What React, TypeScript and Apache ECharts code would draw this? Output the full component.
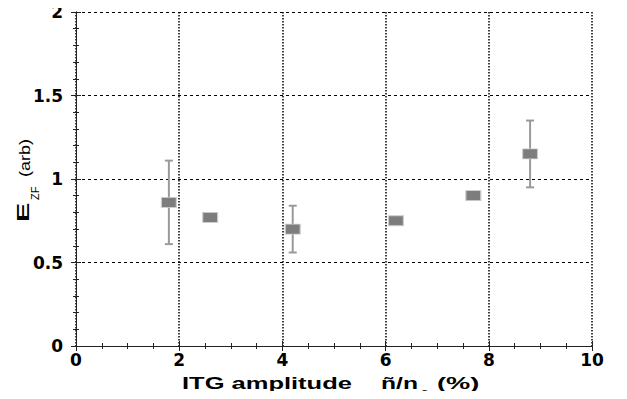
import React, { useEffect, useRef } from "react";
import * as echarts from "echarts";

const xValues = [1.8, 2.6, 4.2, 6.2, 7.7, 8.8];
const yValues = [0.86, 0.77, 0.7, 0.75, 0.9, 1.15];
const yErrors = [0.25, 0, 0.14, 0, 0, 0.2];
const xTicks = [0, 2, 4, 6, 8, 10];
const yTicks = [0, 0.5, 1, 1.5, 2];

const labelFont = "DejaVu Sans";
const titleFont = "Liberation Sans, Arial, sans-serif";

export default function App() {
  const ref = useRef<HTMLDivElement>(null);
  useEffect(() => {
    if (!ref.current) return;
    const chart = echarts.init(ref.current, null, { renderer: "svg" });
    const points = xValues.map((x, i) => [x, yValues[i]]);
    const bars = xValues
      .map((x, i) => [x, yValues[i] - yErrors[i], yValues[i] + yErrors[i], yErrors[i]])
      .filter((d) => d[3] > 0);

    const axisLineStyle = { color: "#222", width: 1 };
    const tickCommon = {
      show: true,
      inside: true,
      length: 5,
      lineStyle: { color: "#222", width: 1 },
    };

    const xBase = {
      type: "value" as const,
      min: xTicks[0],
      max: xTicks[xTicks.length - 1],
      interval: 2,
      axisLine: { show: true, lineStyle: axisLineStyle },
      axisTick: tickCommon,
      minorTick: { show: true, splitNumber: 4, length: 3, lineStyle: { color: "#222" } },
    };
    const yBase = {
      type: "value" as const,
      min: yTicks[0],
      max: yTicks[yTicks.length - 1],
      interval: 0.5,
      axisLine: { show: true, lineStyle: axisLineStyle },
      axisTick: tickCommon,
      minorTick: { show: true, splitNumber: 5, length: 3, lineStyle: { color: "#222" } },
    };

    const tf = (size: number, weight: string) => ({
      fontFamily: titleFont,
      fontSize: size,
      fontWeight: weight,
      fill: "#000",
    });
    const al = { textAlign: "left", align: "left", textVerticalAlign: "middle", verticalAlign: "middle" };

    chart.setOption({
      animation: false,
      backgroundColor: "#fff",
      grid: { left: 76, right: 35, top: 12, bottom: 53 },
      xAxis: [
        {
          ...xBase,
          position: "bottom",
          axisLabel: {
            show: true,
            margin: 5,
            fontFamily: labelFont,
            fontWeight: "bold",
            fontSize: 17,
            color: "#000",
            formatter: (v: number) => String(v),
          },
          splitLine: {
            show: true,
            lineStyle: { color: "#000", type: [1.5, 1.5], width: 1.5 },
          },
        },
        {
          ...xBase,
          position: "top",
          axisLabel: { show: false },
          splitLine: { show: false },
        },
      ],
      yAxis: [
        {
          ...yBase,
          position: "left",
          axisLabel: {
            show: true,
            margin: 13,
            fontFamily: labelFont,
            fontWeight: "bold",
            fontSize: 17,
            color: "#000",
            formatter: (v: number) => String(v),
          },
          splitLine: {
            show: true,
            lineStyle: { color: "#000", type: [3, 3], width: 1 },
          },
        },
        {
          ...yBase,
          position: "right",
          axisLabel: { show: false },
          splitLine: { show: false },
        },
      ],
      graphic: [
        {
          type: "text",
          x: 182,
          y: 383,
          scaleX: 1.5,
          style: { text: "ITG amplitude", ...tf(17, "bold"), ...al },
        },
        {
          type: "text",
          x: 381,
          y: 383,
          scaleX: 1.45,
          style: { text: "ñ/n", ...tf(17, "bold"), ...al },
        },
        {
          type: "text",
          x: 421,
          y: 393,
          scaleX: 1.3,
          style: { text: "o", ...tf(10, "normal"), ...al },
        },
        {
          type: "text",
          x: 437,
          y: 383,
          scaleX: 1.6,
          style: { text: "(%)", ...tf(17, "bold"), ...al },
        },
        {
          type: "group",
          x: 23,
          y: 222,
          rotation: Math.PI / 2,
          children: [
            {
              type: "text",
              x: 0,
              y: 0,
              scaleX: 1.7,
              style: { text: "E", ...tf(17, "bold"), ...al },
            },
            {
              type: "text",
              x: 22,
              y: 12,
              scaleX: 1.1,
              style: { text: "ZF", ...tf(10, "normal"), ...al },
            },
            {
              type: "text",
              x: 45,
              y: 2,
              scaleX: 1.2,
              style: { text: "(arb)", ...tf(15, "normal"), ...al },
            },
          ],
        },
      ],
      series: [
        {
          type: "custom",
          xAxisIndex: 0,
          yAxisIndex: 0,
          z: 2,
          data: bars,
          encode: { x: 0, y: [1, 2] },
          renderItem: (params: any, api: any) => {
            const x = api.value(0);
            const lo = api.coord([x, api.value(1)]);
            const hi = api.coord([x, api.value(2)]);
            const cap = 4;
            const style = { stroke: "#9a9a9a", lineWidth: 2 };
            return {
              type: "group",
              children: [
                { type: "line", shape: { x1: lo[0], y1: lo[1], x2: hi[0], y2: hi[1] }, style },
                { type: "line", shape: { x1: lo[0] - cap, y1: lo[1], x2: lo[0] + cap, y2: lo[1] }, style },
                { type: "line", shape: { x1: hi[0] - cap, y1: hi[1], x2: hi[0] + cap, y2: hi[1] }, style },
              ],
            };
          },
        },
        {
          type: "scatter",
          xAxisIndex: 0,
          yAxisIndex: 0,
          z: 3,
          symbol: "rect",
          symbolSize: [15, 10],
          itemStyle: { color: "#7d7d7d", borderColor: "#cfcfcf", borderWidth: 1, opacity: 1 },
          data: points,
        },
      ],
    });
    return () => chart.dispose();
  }, []);
  return <div ref={ref} style={{ width: 627, height: 399, margin: -8 }} />;
}
